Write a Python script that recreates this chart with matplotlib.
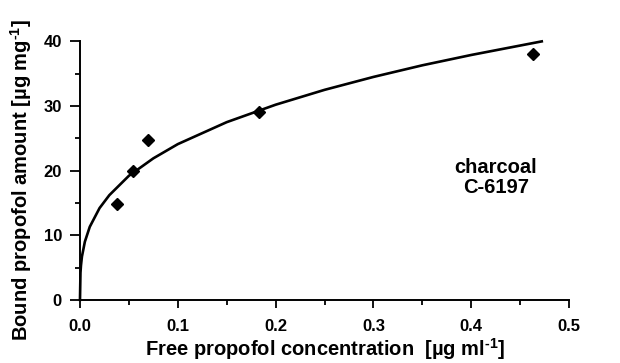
import matplotlib
matplotlib.use("Agg")
import matplotlib.pyplot as plt

# measured adsorption points
free_conc = [0.038, 0.054, 0.070, 0.183, 0.463]
bound_amt = [14.8, 19.9, 24.7, 29.1, 38.0]

# fitted isotherm curve
curve_x = [0.0, 0.0005, 0.001, 0.002, 0.005, 0.01, 0.02, 0.03, 0.05, 0.075,
           0.1, 0.15, 0.2, 0.25, 0.3, 0.35, 0.4, 0.472]
curve_y = [0.0, 4.2, 5.3, 6.7, 9.0, 11.3, 14.2, 16.2, 19.2, 21.9,
           24.1, 27.5, 30.2, 32.5, 34.5, 36.3, 37.9, 40.0]

x_ticks = [0.0, 0.1, 0.2, 0.3, 0.4, 0.5]
y_ticks = [0, 10, 20, 30, 40]

plt.rcParams['font.family'] = ['Liberation Sans', 'DejaVu Sans']
plt.rcParams['font.weight'] = 'bold'
plt.rcParams['mathtext.fontset'] = 'custom'
plt.rcParams['mathtext.rm'] = 'Liberation Sans:bold'
plt.rcParams['mathtext.bf'] = 'Liberation Sans:bold'

fig = plt.figure(figsize=(6.2, 3.63), dpi=100)
ax = fig.add_axes([0.129, 0.174, 0.789, 0.712])

ax.plot(curve_x, curve_y, color='black', lw=1.9, clip_on=False, zorder=2)
ax.plot(free_conc, bound_amt, linestyle='none', marker='D', ms=6,
        color='black', clip_on=False, zorder=3)

ax.set_xlim(0, 0.5)
ax.set_ylim(0, 40)
ax.set_xticks(x_ticks)
ax.set_xticklabels([f"{v:.1f}" for v in x_ticks])
ax.set_yticks(y_ticks)
ax.set_xticks([0.05, 0.15, 0.25, 0.35, 0.45], minor=True)
ax.set_yticks([5, 15, 25, 35], minor=True)

for s in ['top', 'right']:
    ax.spines[s].set_visible(False)
for s in ['left', 'bottom']:
    ax.spines[s].set_linewidth(1.4)

ax.tick_params(which='major', direction='out', length=7, width=1.3,
               labelsize=12)
ax.tick_params(axis='x', which='major', length=6, pad=8)
ax.tick_params(axis='y', which='major', pad=6)
ax.tick_params(which='minor', direction='out', length=3.5, width=1.3)
for lab in ax.get_xticklabels() + ax.get_yticklabels():
    lab.set_fontweight('bold')

ax.set_xlabel(r"Free propofol concentration  [µg ml$^{\text{-1}}$]",
              fontsize=14.5, fontweight='bold', labelpad=1)
ax.set_ylabel(r"Bound propofol amount [µg mg$^{\text{-1}}$]",
              fontsize=14.5, fontweight='bold')
ax.yaxis.set_label_coords(-0.093, 0.465)

ax.text(0.425, 18.9, "charcoal\nC-6197", ha='center', va='center',
        fontsize=14.5, fontweight='bold', linespacing=1.1)

plt.savefig('out.png', dpi=100)
